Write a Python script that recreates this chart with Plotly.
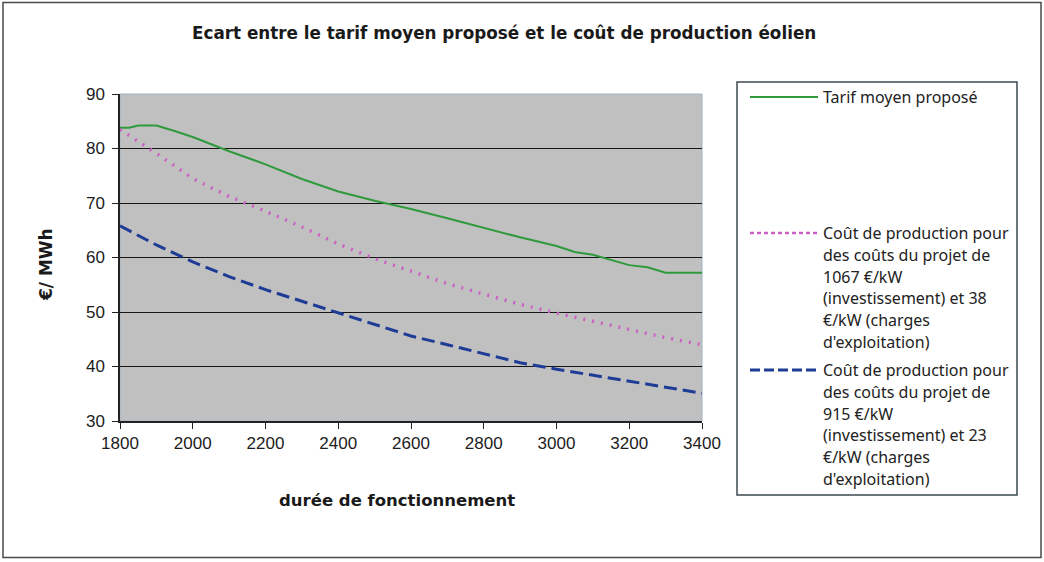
import plotly.graph_objects as go

# ---- data ----
x_tarif = [1800, 1825, 1850, 1900, 1950, 2000, 2100, 2200, 2300, 2400, 2500, 2600,
           2700, 2800, 2900, 3000, 3050, 3100, 3200, 3250, 3300, 3400]
y_tarif = [83.8, 83.8, 84.2, 84.2, 83.2, 82.1, 79.5, 77.1, 74.4, 72.1, 70.4, 68.9,
           67.2, 65.4, 63.7, 62.1, 61.0, 60.5, 58.6, 58.2, 57.2, 57.2]

x_cost = [1800, 1900, 2000, 2100, 2200, 2300, 2400, 2500, 2600, 2700, 2800, 2900,
          3000, 3100, 3200, 3300, 3400]
y_cost_1067 = [83.5, 79.1, 74.5, 71.2, 68.5, 65.6, 62.5, 59.8, 57.5, 55.2, 53.3, 51.4,
               49.8, 48.3, 46.8, 45.3, 44.0]
y_cost_915 = [65.8, 62.3, 59.2, 56.5, 54.1, 52.0, 49.8, 47.7, 45.6, 44.0, 42.3, 40.7,
              39.5, 38.4, 37.2, 36.1, 35.1]

x_ticks = [1800, 2000, 2200, 2400, 2600, 2800, 3000, 3200, 3400]
y_ticks = [30, 40, 50, 60, 70, 80, 90]
y_grid = [40, 50, 60, 70, 80]

title = "Ecart entre le tarif moyen proposé et le coût de production éolien"
x_title = "durée de fonctionnement"
y_title = "€/ MWh"
legend_tarif = ["Tarif moyen proposé"]
legend_1067 = ["Coût de production pour", "des coûts du projet de", "1067 €/kW",
               "(investissement) et 38", "€/kW (charges", "d'exploitation)"]
legend_915 = ["Coût de production pour", "des coûts du projet de", "915 €/kW",
              "(investissement) et 23", "€/kW (charges", "d'exploitation)"]

GREEN = "#2F9A3C"
PINK = "#CC5FC6"
BLUE = "#1E3C96"

# ---- layout geometry (pixels) ----
W, H = 1044, 562
L, R, T, B = 120, 702, 94, 421
PW, PH = R - L, B - T


def px(xp):
    return (xp - L) / PW


def py(yp):
    return (B - yp) / PH


fig = go.Figure()
fig.add_trace(go.Scatter(x=x_tarif, y=y_tarif, mode="lines",
                         line=dict(color=GREEN, width=2), showlegend=False))
fig.add_trace(go.Scatter(x=x_cost, y=y_cost_1067, mode="lines",
                         line=dict(color=PINK, width=3.5, dash="2px,7px"), showlegend=False))
fig.add_trace(go.Scatter(x=x_cost, y=y_cost_915, mode="lines",
                         line=dict(color=BLUE, width=3, dash="13px,6px"), showlegend=False))
# invisible trace for grid axis
fig.add_trace(go.Scatter(x=[x_cost[0]], y=[y_cost_915[0]], yaxis="y2", mode="markers",
                         marker=dict(opacity=0), showlegend=False, hoverinfo="skip"))

tick_font = dict(family="Liberation Sans, Arial, sans-serif", size=17, color="#1c1c1c")

fig.update_layout(
    width=W, height=H,
    margin=dict(l=L, r=W - R, t=T, b=H - B, pad=0),
    paper_bgcolor="white",
    plot_bgcolor="#C0C0C0",
    showlegend=False,
    xaxis=dict(range=[1800, 3400], tickvals=x_ticks, ticks="outside", ticklen=6,
               tickcolor="#222", showgrid=False, zeroline=False, showline=True,
               linecolor="#222", linewidth=1.5, tickfont=tick_font),
    yaxis=dict(range=[30, 90], tickvals=y_ticks, ticks="outside", ticklen=6,
               tickcolor="#222", showgrid=False, zeroline=False, showline=True,
               linecolor="#222", linewidth=1.5, tickfont=tick_font, ticklabelstandoff=4),
    yaxis2=dict(range=[30, 90], overlaying="y", tickvals=y_grid, showticklabels=False,
                showgrid=True, gridcolor="#151515", gridwidth=1.4, zeroline=False,
                showline=False, ticks=""),
)

shapes = []
# plot area light border (top/right)
shapes.append(dict(type="rect", xref="paper", yref="paper", x0=0, x1=1, y0=0, y1=1,
                   line=dict(color="#9FB4C4", width=1), layer="below"))
# outer figure border
shapes.append(dict(type="rect", xref="paper", yref="paper",
                   x0=px(3), x1=px(1041), y0=py(557.5), y1=py(2.5),
                   line=dict(color="#4a4a4a", width=1.5)))
# legend box
shapes.append(dict(type="rect", xref="paper", yref="paper",
                   x0=px(737), x1=px(1017), y0=py(495), y1=py(82),
                   line=dict(color="#3d4a50", width=1.5), fillcolor="white"))
# legend sample lines
shapes.append(dict(type="line", xref="paper", yref="paper", x0=px(750), x1=px(818),
                   y0=py(97), y1=py(97), line=dict(color=GREEN, width=2)))
shapes.append(dict(type="line", xref="paper", yref="paper", x0=px(750), x1=px(818),
                   y0=py(233), y1=py(233), line=dict(color=PINK, width=2.5, dash="4px,3px")))
shapes.append(dict(type="line", xref="paper", yref="paper", x0=px(750), x1=px(818),
                   y0=py(370), y1=py(370), line=dict(color=BLUE, width=3, dash="10px,4px")))
fig.update_layout(shapes=shapes)

bold_font = "DejaVu Sans, Verdana, sans-serif"
ann = []
ann.append(dict(text="<b>" + title + "</b>", xref="paper", yref="paper", x=px(504), y=py(33),
                showarrow=False, xanchor="center", yanchor="middle",
                font=dict(family=bold_font, size=16.8, color="#1a1a1a")))
ann.append(dict(text="<b>" + x_title + "</b>", xref="paper", yref="paper", x=px(397), y=py(500),
                showarrow=False, xanchor="center", yanchor="middle",
                font=dict(family=bold_font, size=16.5, color="#1a1a1a")))
ann.append(dict(text="<b>" + y_title + "</b>", xref="paper", yref="paper", x=px(46), y=py(265),
                showarrow=False, xanchor="center", yanchor="middle", textangle=-90,
                font=dict(family=bold_font, size=17, color="#1a1a1a")))

leg_font = dict(family="Noto Sans, sans-serif", size=16, color="#222")
LINE_H = 21.8
for block, y0 in ((legend_tarif, 97), (legend_1067, 233), (legend_915, 370)):
    for i, s in enumerate(block):
        ann.append(dict(text=s, xref="paper", yref="paper", x=px(821), y=py(y0 + i * LINE_H),
                        showarrow=False, xanchor="left", yanchor="middle", font=leg_font))
fig.update_layout(annotations=ann)

fig.write_html("out.html", config={"displayModeBar": False},
               post_script="document.body.style.margin='0';")
